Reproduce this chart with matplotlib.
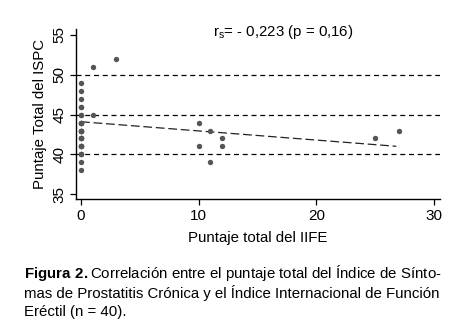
import numpy as np
import matplotlib
matplotlib.use('Agg')
import matplotlib.pyplot as plt

plt.rcParams['font.family'] = ['Liberation Sans', 'DejaVu Sans']
plt.rcParams['mathtext.fontset'] = 'custom'
plt.rcParams['mathtext.rm'] = 'Liberation Sans'
plt.rcParams['mathtext.bf'] = 'Liberation Sans:bold'

# datos (n = 40); los puntos en x = 0 se superponen
iife = [0] * 29 + [1, 3, 1, 10, 10, 11, 11, 12, 12, 25, 27]
ispc = [49, 48, 47, 46, 45, 44, 43, 42, 41, 40, 39, 38,
        46, 45, 44, 43, 42, 41, 40, 44, 43, 42, 41, 40, 43, 42, 41, 44, 43,
        51, 52, 45, 44, 41, 43, 39, 42, 41, 42, 43]
ref_lines = [40, 45, 50]
fit_x = [0, 26.8]
fit_intercept = 44.1
fit_slope = -0.115

fig = plt.figure(figsize=(4.62, 3.32), dpi=100)
ax = fig.add_axes([0.1645, 0.4006, 0.7875, 0.5121])

for y in ref_lines:
    ax.axhline(y, color='black', linestyle=(0, (4, 3)), linewidth=0.9, zorder=1)

ax.scatter(iife, ispc, s=15, color='#555555', zorder=3, linewidths=0)

fx = np.array(fit_x)
ax.plot(fx, fit_intercept + fit_slope * fx, color='#222222',
        linestyle=(0, (7, 3)), linewidth=0.9, zorder=2)

ax.set_xlim(-0.43, 30.5)
ax.set_ylim(34.4, 55.75)
ax.set_xticks([0, 10, 20, 30])
ax.set_yticks([35, 40, 45, 50, 55])
ax.tick_params(direction='out', length=4, width=0.9, labelsize=11, pad=3)
for lab in ax.get_yticklabels():
    lab.set_rotation(90)
    lab.set_va('center')
for s in ['top', 'right']:
    ax.spines[s].set_visible(False)
for s in ['left', 'bottom']:
    ax.spines[s].set_linewidth(1.0)

ax.set_xlabel('Puntaje total del IIFE', fontsize=10.8, labelpad=6)
ax.set_ylabel('Puntaje Total del ISPC', fontsize=10.8, labelpad=4)

ax.text(17.2, 55.4, r'r$_\mathregular{s}$= - 0,223 (p = 0,16)', fontsize=10.8,
        ha='center', va='center')

fig.text(0.052, 0.178, r'$\mathbf{Figura\ 2.}$Correlación entre el puntaje total del Índice de Sínto-',
         fontsize=10.8, va='center')
fig.text(0.052, 0.118, 'mas de Prostatitis Crónica y el Índice Internacional de Función',
         fontsize=10.8, va='center')
fig.text(0.052, 0.060, 'Eréctil (n = 40).', fontsize=10.8, va='center')

fig.savefig('out.png', dpi=100)
